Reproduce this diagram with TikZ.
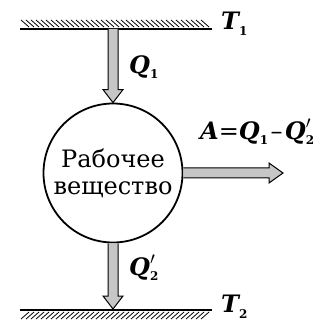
\documentclass[tikz,border=0pt]{standalone}
\usepackage{fontspec}
\setmainfont{DejaVu Serif}
\usetikzlibrary{calc}
\newcommand{\lbl}[1]{{\bfseries\itshape #1}}
\newcommand{\subi}[1]{\raisebox{-0.45ex}{\fontsize{12}{12}\selectfont\bfseries #1}}
\newcommand{\prm}[1]{\rlap{\raisebox{0.1ex}{\bfseries$'$}}\subi{#1}}
\tikzset{
  wall/.style={line width=2.2pt},
  hatch/.style={line width=0.8pt},
  fat/.style={draw=black, line width=1pt, fill=gray!45, line join=miter},
  body/.style={circle, draw, line width=1.8pt, minimum size=139pt, inner sep=0pt, align=center,
    font=\fontsize{24}{27}\selectfont},
  lab/.style={font=\fontsize{24}{26}\selectfont, inner sep=0pt}
}
\begin{document}
\begin{tikzpicture}[x=1pt,y=1pt]
\useasboundingbox (0,0) rectangle (326,324);
% walls
\coordinate (w1l) at (20,295);
\coordinate (w1r) at (212,295);
\coordinate (w2l) at (20,14);
\coordinate (w2r) at (212,14);
\draw[wall] (w1l) -- (w1r);
\draw[wall] (w2l) -- (w2r);
\foreach \x in {21,26,...,205} {
  \draw[hatch] (\x,304) -- (\x+8,297);
  \draw[hatch] (\x,5) -- (\x+8,12);
}
% body
\node[body] (c) at (113,151) {Рабочее\\вещество};
% connector points
\coordinate (t1) at (113,295);
\coordinate (b1) at (113,15);
\coordinate (r1) at (283,151);
% top arrow
\filldraw[fat] ($(t1)+(-5,0)$) -- ($(c.north)+(-5,13)$) -- ($(c.north)+(-10,13)$) -- (c.north)
  -- ($(c.north)+(10,13)$) -- ($(c.north)+(5,13)$) -- ($(t1)+(5,0)$);
% bottom arrow
\filldraw[fat] ($(c.south)+(-5,0)$) -- ($(b1)+(-5,13)$) -- ($(b1)+(-10,13)$) -- (b1)
  -- ($(b1)+(10,13)$) -- ($(b1)+(5,13)$) -- ($(c.south)+(5,0)$);
% right arrow
\filldraw[fat] ($(c.east)+(0,5)$) -- ($(r1)+(-14,5)$) -- ($(r1)+(-14,10)$) -- (r1)
  -- ($(r1)+(-14,-10)$) -- ($(r1)+(-14,-5)$) -- ($(c.east)+(0,-5)$);
% labels
\node[lab, anchor=west] (T1) at (221,300) {\lbl{T}\subi{1}};
\node[lab, anchor=west] (T2) at (221,17) {\lbl{T}\subi{2}};
\node[lab, anchor=west] (Q1) at (129,257) {\lbl{Q}\subi{1}};
\node[lab, anchor=west] (Q2) at (129,56) {\lbl{Q}\prm{2}};
\node[lab, anchor=west] (A) at (200,192) {\lbl{A}=\lbl{Q}\subi{1}\kern0.1em–\kern0.1em\lbl{Q}\prm{2}};
\end{tikzpicture}
\end{document}
